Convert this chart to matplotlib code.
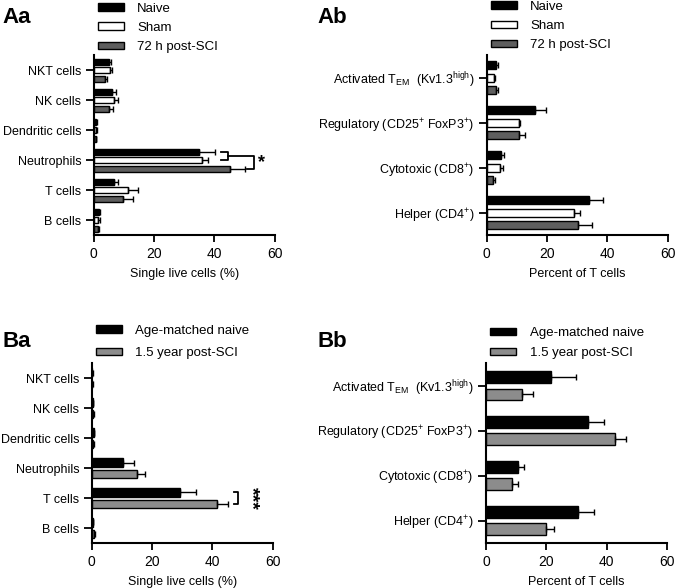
import matplotlib
matplotlib.use("Agg")
import matplotlib.pyplot as plt
import numpy as np

plt.rcParams["font.family"] = ["Liberation Sans", "DejaVu Sans"]
plt.rcParams["mathtext.fontset"] = "custom"
plt.rcParams["mathtext.rm"] = "Liberation Sans"
plt.rcParams["mathtext.it"] = "Liberation Sans:italic"

# Panel A: cell populations (top to bottom)
cells = ["NKT cells", "NK cells", "Dendritic cells", "Neutrophils", "T cells", "B cells"]
a_naive = [5.0, 6.1, 0.8, 34.8, 6.7, 1.8]
a_naive_err = [0.7, 1.2, 0.3, 5.5, 1.4, 0.3]
a_sham = [5.4, 6.8, 0.8, 35.9, 11.4, 1.5]
a_sham_err = [0.7, 1.1, 0.3, 1.9, 3.2, 0.4]
a_sci = [3.6, 5.1, 0.6, 45.3, 9.8, 1.3]
a_sci_err = [0.8, 1.3, 0.2, 5.0, 3.1, 0.4]

# T cell subsets (top to bottom)
tsubsets = [
    r"Activated T$_{\rm EM}$  (Kv1.3$^{\rm high}$)",
    r"Regulatory (CD25$^{+}$ FoxP3$^{+}$)",
    r"Cytotoxic (CD8$^{+}$)",
    r"Helper (CD4$^{+}$)",
]
ab_naive = [3.1, 16.1, 4.8, 34.0]
ab_naive_err = [0.6, 3.6, 1.1, 4.5]
ab_sham = [2.3, 10.6, 4.5, 28.8]
ab_sham_err = [0.5, 0.6, 1.0, 2.2]
ab_sci = [3.1, 10.6, 2.0, 30.2]
ab_sci_err = [0.8, 2.2, 0.9, 4.6]

# Panel B: chronic
ba_naive = [0.2, 0.3, 0.6, 10.3, 29.4, 0.3]
ba_naive_err = [0.1, 0.1, 0.2, 3.6, 5.0, 0.1]
ba_sci = [0.2, 0.5, 0.5, 15.0, 41.6, 0.8]
ba_sci_err = [0.1, 0.1, 0.1, 2.7, 3.6, 0.2]

bb_naive = [21.6, 33.7, 10.5, 30.5]
bb_naive_err = [8.2, 5.6, 2.2, 5.4]
bb_sci = [12.1, 42.9, 8.7, 19.8]
bb_sci_err = [3.6, 3.6, 1.8, 2.7]

A_LABELS = ["Naive", "Sham", "72 h post-SCI"]
A_COLORS = ["black", "white", "#5e5e5e"]
B_LABELS = ["Age-matched naive", "1.5 year post-SCI"]
B_COLORS = ["black", "#8c8c8c"]


def bar_panel(ax, cats, series, errs, labels, colors, step, height, xlabel,
              leg_y=1.0, leg_space=0.55):
    n = len(cats)
    pos = np.arange(n)[::-1].astype(float)
    k = len(series)
    offs = (np.arange(k) - (k - 1) / 2) * step
    for vals, err, lab, col, off in zip(series, errs, labels, colors, offs):
        ax.barh(pos - off, vals, height=height, color=col, edgecolor="black",
                linewidth=1.0, label=lab,
                xerr=[np.zeros(n), err],
                error_kw=dict(ecolor="black", elinewidth=1.0, capsize=2.5, capthick=1.0))
    ax.set_yticks(pos)
    ax.set_yticklabels(cats, fontsize=9)
    ax.set_ylim(-0.5, n - 0.5)
    ax.set_xlim(0, 60)
    ax.set_xticks([0, 20, 40, 60])
    ax.tick_params(axis="x", labelsize=10, width=1.3, length=5)
    ax.tick_params(axis="y", width=1.3, length=6, pad=3)
    ax.set_xlabel(xlabel, fontsize=9, labelpad=5)
    for s in ["top", "right"]:
        ax.spines[s].set_visible(False)
    for s in ["left", "bottom"]:
        ax.spines[s].set_linewidth(1.5)
    ax.legend(loc="lower left", bbox_to_anchor=(0.0, leg_y), frameon=False,
              fontsize=9.5, handlelength=2.0, handleheight=0.5, labelspacing=leg_space,
              handletextpad=1.0, borderaxespad=0.1, borderpad=0.2)
    return pos, offs


fig = plt.figure(figsize=(6.75, 5.88), dpi=100)
ax_aa = fig.add_axes([0.139, 0.600, 0.268, 0.306])
ax_ab = fig.add_axes([0.721, 0.600, 0.268, 0.306])
ax_ba = fig.add_axes([0.136, 0.0765, 0.268, 0.306])
ax_bb = fig.add_axes([0.720, 0.0765, 0.268, 0.306])

pos, offs = bar_panel(ax_aa, cells, [a_naive, a_sham, a_sci],
                      [a_naive_err, a_sham_err, a_sci_err],
                      A_LABELS, A_COLORS, 0.28, 0.2, "Single live cells (%)", leg_y=0.99)
bar_panel(ax_ab, tsubsets, [ab_naive, ab_sham, ab_sci],
          [ab_naive_err, ab_sham_err, ab_sci_err],
          A_LABELS, A_COLORS, 0.28, 0.18, "Percent of T cells", leg_y=1.0)
pos_b, offs_b = bar_panel(ax_ba, cells, [ba_naive, ba_sci], [ba_naive_err, ba_sci_err],
                          B_LABELS, B_COLORS, 0.37, 0.27, "Single live cells (%)",
                          leg_space=0.78)
bar_panel(ax_bb, tsubsets, [bb_naive, bb_sci], [bb_naive_err, bb_sci_err],
          B_LABELS, B_COLORS, 0.38, 0.25, "Percent of T cells", leg_space=0.62)

# significance brackets, Aa neutrophils
i = cells.index("Neutrophils")
y_n, y_s, y_p = pos[i] - offs[0], pos[i] - offs[1], pos[i] - offs[2]
x1 = max(a_naive[i] + a_naive_err[i], a_sham[i] + a_sham_err[i]) + 1.8
x2 = x1 + 2.3
kw = dict(color="black", lw=1.3, clip_on=False)
ax_aa.plot([x1, x2, x2, x1], [y_n, y_n, y_s, y_s], **kw)
ym = (y_n + y_s) / 2
x3 = a_sci[i] + a_sci_err[i] + 2.7
ax_aa.plot([x2, x3, x3, x3 - 2.3], [ym, ym, y_p, y_p], **kw)
ax_aa.text(x3 + 1.5, (ym + y_p) / 2, "*", fontsize=13, fontweight="bold",
           ha="left", va="center", clip_on=False)

# Ba T cells
j = cells.index("T cells")
y1, y2 = pos_b[j] - offs_b[0], pos_b[j] - offs_b[1]
xb = ba_sci[j] + ba_sci_err[j] + 1.8
ax_ba.plot([xb, xb + 1.6, xb + 1.6, xb], [y1, y1, y2, y2], **kw)
ax_ba.text(xb + 3.2, (y1 + y2) / 2, "***", fontsize=14, fontweight="bold",
           rotation=270, ha="left", va="center", clip_on=False)

for lab, x, y in [("Aa", 0.004, 0.97), ("Ab", 0.471, 0.97),
                  ("Ba", 0.004, 0.42), ("Bb", 0.471, 0.42)]:
    fig.text(x, y, lab, fontsize=16, fontweight="bold", va="center", ha="left")

fig.savefig("out.png", dpi=100)
